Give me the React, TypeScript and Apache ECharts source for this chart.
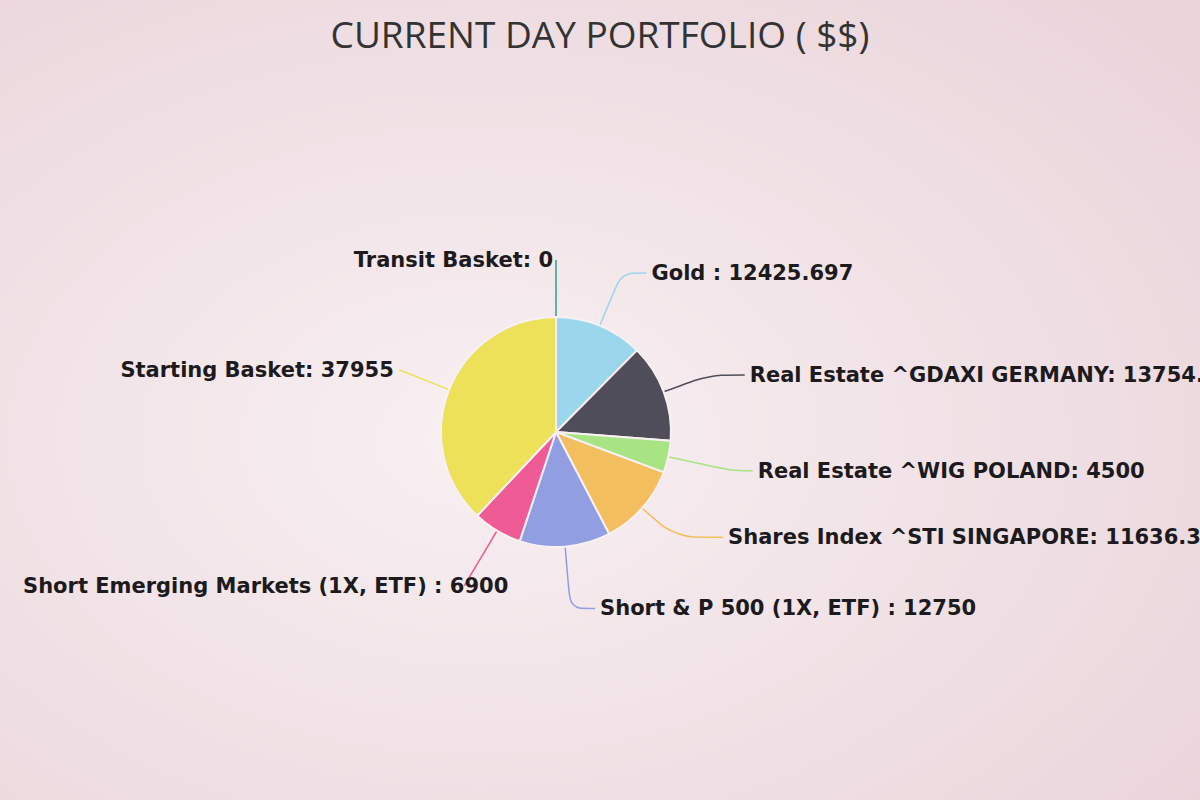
import React, { useEffect, useRef } from "react";
import * as echarts from "echarts";

const titleText = "CURRENT DAY PORTFOLIO ( $$)";
const names = [
  "Transit Basket",
  "Gold ",
  "Real Estate ^GDAXI GERMANY",
  "Real Estate ^WIG POLAND",
  "Shares Index ^STI SINGAPORE",
  "Short & P 500 (1X, ETF) ",
  "Short Emerging Markets (1X, ETF) ",
  "Starting Basket",
];
const values = [0, 12425.697, 13754.4, 4500, 11636.3, 12750, 6900, 37955];
const colors = ["#2f9c8f", "#9ad6ec", "#4f4d59", "#a8e384", "#f3be5e", "#929ee2", "#ef5c95", "#ede159"];
// label line lengths per slice (layout)
const lineLen = [57, 57, 48, 65, 44, 62, 64, 52];
const lineLen2 = [0, 25, 36, 21, 48, 25, 0, 2];

export default function App() {
  const ref = useRef<HTMLDivElement>(null);
  useEffect(() => {
    document.body.style.margin = "0";
    const chart = echarts.init(ref.current!, undefined, { renderer: "svg" });
    chart.setOption({
      animation: false,
      backgroundColor: {
        type: "radial",
        x: 0.4,
        y: 0.55,
        r: 0.75,
        colorStops: [
          { offset: 0, color: "#f8f0f2" },
          { offset: 1, color: "#ead5db" },
        ],
      },
      title: {
        text: titleText,
        left: "center",
        top: 10,
        textStyle: { fontFamily: "Open Sans", fontSize: 37, fontWeight: "normal", color: "#333" },
      },
      series: [
        {
          type: "pie",
          center: [556, 432],
          radius: 115,
          startAngle: 90,
          clockwise: true,
          data: names.map((n, i) => ({
            name: n,
            value: values[i],
            itemStyle: { color: colors[i] },
            label: i === 0 ? { distanceToLabelLine: 3 } : {},
            labelLine: { length: lineLen[i], length2: lineLen2[i], lineStyle: { color: colors[i] } },
          })),
          itemStyle: { borderColor: "#f8f0f2", borderWidth: 2 },
          label: {
            formatter: "{b}: {c}",
            fontFamily: "DejaVu Sans",
            fontWeight: "bold",
            fontSize: 21,
            color: "#1c1a1c",
          },
          labelLine: { smooth: true, lineStyle: { width: 1.5 } },
          avoidLabelOverlap: false,
          labelLayout: (p: any) => (p.dataIndex === 6 ? { dx: 49 } : {}),
        },
      ],
    });
    return () => chart.dispose();
  }, []);
  return <div ref={ref} style={{ width: 1200, height: 800 }} />;
}
